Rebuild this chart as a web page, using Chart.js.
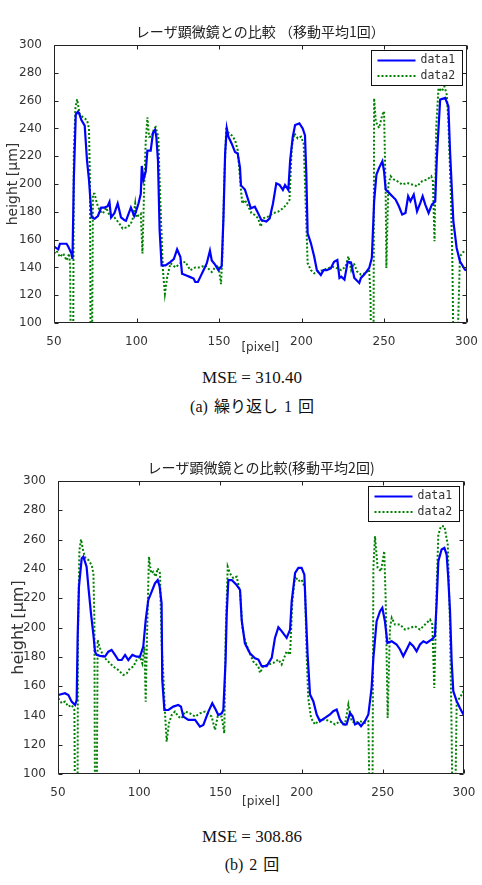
<!DOCTYPE html>
<html lang="ja">
  <head>
    <meta charset="UTF-8">
    <title>レーザ顕微鏡との比較</title>
    <script src="https://cdn.jsdelivr.net/npm/chart.js@4.4.6/dist/chart.umd.min.js"></script>
    <style>
      body { margin: 0; background: #fff; }
      #page { position: relative; width: 482px; height: 885px; overflow: hidden; }
      canvas { position: absolute; left: 0; }
      .cap { position: absolute; left: 252px; transform: translate(-50%, -50%); white-space: nowrap;
             font-family: "Liberation Serif", "Noto Sans CJK JP", serif; color: #111; }
      .mse { font-size: 17px; }
      .sub { font-size: 16px; word-spacing: 2px; }
    </style>
  </head>
  <body>
    <div id="page">
      <canvas id="chart-a" width="482" height="360" style="top:0"></canvas>
      <canvas id="chart-b" width="482" height="381" style="top:430px"></canvas>
      <div class="cap mse" style="top:378px">MSE = 310.40</div>
      <div class="cap sub" style="top:405px">(a) 繰り返し 1 回</div>
      <div class="cap mse" style="top:837px">MSE = 308.86</div>
      <div class="cap sub" style="top:863px">(b) 2 回</div>
    </div>
    <script>
      // tick values shared by both plots
      const xTicks = [50, 100, 150, 200, 250, 300];
      const yTicks = [100, 120, 140, 160, 180, 200, 220, 240, 260, 280, 300];
      const seriesNames = ["data1", "data2"];
      const titleA = "レーザ顕微鏡との比較 （移動平均1回）";
      const titleB = "レーザ顕微鏡との比較(移動平均2回)";

      // (a) moving average x1 -- data1 (blue)
      const pixelA1 = [50,52.6,53.6,57.6,58.6,60.6,61.2,62,63.2,64.5,65.2,66.6,68.6,70,71.2,72.8,74.6,76.6,78.6,80.6,82.5,83.6,84.6,86.6,88.6,90.6,92.6,93.6,96.6,98.6,99.6,101.2,102.6,103.2,104.2,105.6,106.6,108.6,110,111.2,112,113,114,115.2,117.6,120.6,122.6,124.6,126.6,127.6,130.6,132.6,134.6,135.6,137.2,138.6,140.6,142.6,144.5,145.6,147.6,149.6,151.6,152.7,153.7,154.7,155.7,157.7,159.7,161.3,162.7,163.3,165.7,167.7,169.3,171.7,173.7,175.7,178.7,180.7,182.7,184.7,186.7,188.7,190,192,193.1,194.7,196.1,198.7,200.7,202.1,202.9,203.7,205.7,207.7,209.3,211.7,213.3,215.3,217.7,219.7,221.7,223,224.1,226,228,230,232,235,236,238,241,242.6,244,245.4,247,249,250,251,253,255,257,259,261,263,264.6,266,268,270,272,273.4,275,277,279,281,282,284,287,289,290,292,294,296,299,300];
      const heightA1 = [155,153,157,157,155,150,146,203,250,252,251,246,242,217,203,176,175,177,183,183,184,187,176,179,186,176,174,173.5,183,177,180,186,193,213,203,209,224,224,237,239,234,217,167,141.5,141.5,144,146,153,147.5,135.5,134,133,132,129.5,129.5,133,138,143,152,145,142,138,141,176,222,240,234,229,223,222,212,199,196,188.5,182.5,183.7,179,174,173,175.3,186,200.5,199.3,195.7,199.3,195.7,217,234,242.4,243.6,240,235,207.6,164.5,157.3,147.7,138,134.5,138,138,139.3,144,145.3,132.4,133.3,131.2,144,143.5,132.4,128.8,132.4,134.8,139.6,146.8,187.6,206.8,211.6,216.4,209.2,196,193.6,191.2,188.8,184,178,179.2,191.2,187.6,192.4,180.4,186.4,191.2,185.2,179.2,185.2,187.6,218.8,260.7,261.9,255.9,223.6,173.2,154,144.4,138.4,138];

      // (a) moving average x1 -- data2 (green, dips run below the axis)
      const pixelA2 = [50,51.6,53.6,55.6,57.6,59.2,59.8,60.2,61.6,62,63,64,65.6,67.6,70,71.2,71.8,72.2,73,73.6,74.6,76,77.6,79.6,81.6,83.6,86.6,89.6,91.6,94.6,96.6,98,99.2,100,101.2,102.6,103.6,104.6,105.6,106.6,107.6,109.2,110.6,111.6,113.2,114,115,116,117.2,118.6,120.6,123.6,126.6,129.6,132.6,135.6,138.6,141.6,145.6,147.6,149.6,151.2,152,153.2,154.4,155.6,157.7,159.7,161.3,163.3,164.1,165.7,167.7,169.7,171.7,173.7,175.3,176.7,179.7,182.7,185.7,188.7,190.7,192.7,194.1,195.7,197.7,199.7,201.3,202.7,203.7,205.7,207.7,209.7,212.7,215.7,218.7,221.7,224.1,226.7,228.4,230.1,231.7,233.7,236,239,241,241.8,242.2,243.6,244,245,247,249,250,251,251.4,252.6,254,256,258,261,264,267,270,273,276,278.6,279.6,280.6,281.6,283,285,286.6,288,289,290.6,291.4,292.2,294.2,296,298,300];
      const heightA2 = [150,152,147.5,150,145,150,140,70,70,222,255,261,250,248,246,240,200,70,70,193,193,186,181,178.7,183,177.5,176,171.5,168,169,171.5,176,186,176,177.5,178.7,150,195.5,231,248,234,234,240,241,234,202.6,169,138,121,133,143,140,143,144,138,140,140,141.5,136.7,140,141.5,128,147.5,202.6,241,237,235,231.6,224.4,195.7,186,188.5,183.7,179,177.7,175.3,169.3,175.3,176.5,179,180,182.5,185,188.5,227,236.4,232.8,234,229.2,179,143,138,135.7,137,138,139.3,140.5,139.3,138,140.5,148,138,143,137,134.8,136,138.4,120,70,70,261.7,245,240.3,250,252.3,192.4,139.6,199.6,205.6,203.2,202,199.6,200.8,199.6,198.4,202,203.2,205.6,202,158.8,240.3,269,266.7,270.3,264.3,245,187.6,144.4,70,70,148,151,152];

      // (b) moving average x2 -- data1 (blue)
      const pixelB1 = [50.2,54.3,56.4,58.4,60.5,61.5,62.1,62.9,64.6,65.6,67.6,68.7,70.3,71.8,72.8,73.8,75.9,78.9,81,83,85.1,87.1,89.2,91.3,93.3,95.8,98.4,100.5,102.5,104,105.6,107.7,109.7,111.4,112.6,113.8,114.2,115.5,118,121,124.1,125.7,127.2,130.3,134.4,137.4,139.5,142.6,145,146.7,148.7,150.8,151.8,153.2,153.9,154.9,157,160,162.1,163.1,165.1,168.2,171.3,173.4,175.4,178.5,181.6,183.6,185.7,187.7,190.8,192.9,193.9,196,198,200,201.7,202.5,203.7,205.2,207.2,209.3,211.3,214.4,217.5,219.5,221.6,223.6,225.7,227.7,229.8,231.4,232.9,234.9,236.6,239,241.1,243.1,244.2,246.2,248.3,249.7,251.3,252.8,255.5,258.5,260.6,262.6,264.7,266.7,268.8,270.8,272.9,275,277,280.1,282.1,283.2,284.2,286.2,287.9,289.3,290.3,291.4,292.4,293.4,295.5,297.5,299.6];
      const heightB1 = [153.9,155.1,153.9,149.4,147.1,150.5,193.8,227.9,247.2,248.4,241.5,227.9,209.7,194.9,183.5,181.3,180.6,180.1,183.5,184.7,181.3,177.8,177.8,181.3,177.8,181.3,180.1,180.1,187,205.1,218.8,224.5,230.2,232.4,227.9,216.5,164.2,143.7,143.7,146,147.1,146,139.2,136.9,136.9,132.3,133.5,142.6,148.3,144.8,140.3,141.4,143.7,177.8,209.7,232.4,232.4,229,225.6,205.1,189.2,182.4,179,178.1,173.6,173.6,179.3,192.9,200.2,197.5,192.9,198.6,217.9,237.3,240.7,240.7,236.1,213.4,181.5,154.2,149.7,140.6,136,138.3,140.6,142.9,144,137.2,133.8,133.8,141.7,139.4,133.8,134.9,132.6,136,140.6,158.8,179.3,204.3,211.1,213.4,204.3,189.5,190.6,188.4,185,180.4,185,189.5,187.2,183.8,188.4,190.6,189.5,191.8,194.1,217.9,245.2,253.2,254.3,249.8,233.9,211.1,177,156.5,149.7,145.1,140.6];

      // (b) moving average x2 -- data2 (green)
      const pixelB2 = [50.2,52.3,54.3,56.4,58.4,60.1,60.5,62,62.3,63.2,64.2,65.6,67,68.7,70.7,71.8,72.4,72.8,73.8,74.4,75.9,78,81,84.1,87.1,90.2,92.3,94.3,96.4,98.4,100.5,101.9,103.2,104,104.8,106,107.3,108.7,110.1,111.4,112.8,113.8,114.9,115.9,116.9,118.3,120,122,124.1,126.1,128.2,131.3,134.4,137.4,140.5,144.6,146.7,148.3,150.8,152.4,153.2,154.5,155.9,158,160,162.1,163.5,165.1,167.2,170.3,173.4,174.4,176.4,179.5,182.6,185.7,187.7,190.8,192.9,194.3,196,198,200,202.1,203.1,204.1,205.8,208.2,211.3,214.4,217.5,220.6,223.6,226.7,228.8,230.8,232.9,236,239,241.1,242,243.6,244.2,245.2,246.8,248.9,250.9,251.8,253,254.4,255.5,257.5,260.6,263.7,266.7,269.8,272.9,276,279.1,280.5,281.7,283.2,284.2,285.8,287.9,290,291.4,292.4,293,294.5,295.5,297.5,299.6];
      const heightB2 = [151.7,148.3,149.4,146,147.1,143.7,70,70,193.8,252.9,260.2,251.8,247.2,246.1,242.7,237,205.1,70,70,191.5,185.8,180.1,176.7,173.3,171,167.6,168.7,172.1,173.3,177.8,180.1,175.6,187,149.4,193.8,248.4,237,238.1,234.7,240.4,237,189.2,166.5,141.4,122.1,134.6,140.3,142.6,139.2,138,142.6,141.4,139.2,141.4,142.6,139.2,130.1,139.2,139.2,127.8,193.8,241.5,237,233.6,234.7,224.5,200.6,191.5,184.7,176.7,173.3,169,173.6,174.7,175.8,178.1,174.7,183.8,181.5,217.9,235,231.6,232.7,227,181.5,152,138.3,133.8,137.2,137.2,136,133.8,136,133.8,147.4,136,134.9,136,134.9,136,70,70,240.7,262.3,240.7,238.4,252.1,217.9,138.3,199.7,206.6,202,202,198.6,199.7,200.9,198.6,202,205.4,202,158.8,229.3,263.4,269.1,269.1,256.6,199.7,127,70,70,149.7,152,156.5];

      const toPoints = (xs, ys) => xs.map((x, i) => ({ x: x, y: ys[i] }));

      // title over the plot area, box, inward ticks on all four sides, legend in the top right corner
      const matlabFrame = {
        id: 'matlabFrame',
        afterDatasetsDraw(chart, args, opts) {
          const { ctx, chartArea: a, scales: { x, y } } = chart;
          const L = Math.round(a.left) + 0.5, R = Math.round(a.right) - 0.5;
          const T = Math.round(a.top) + 0.5, B = Math.round(a.bottom) - 0.5;
          ctx.save();

          ctx.fillStyle = '#222';
          ctx.font = '14px "Noto Sans CJK JP"';
          ctx.textAlign = 'center';
          ctx.textBaseline = 'middle';
          ctx.fillText(opts.title, (a.left + a.right) / 2, opts.titleY);
          ctx.textAlign = 'left';

          ctx.strokeStyle = '#222';
          ctx.lineWidth = 1;
          ctx.setLineDash([]);
          ctx.beginPath();
          ctx.rect(L, T, R - L, B - T);
          x.ticks.forEach(t => {
            const p = Math.round(x.getPixelForValue(t.value)) + 0.5;
            ctx.moveTo(p, B); ctx.lineTo(p, B - 4);
            ctx.moveTo(p, T); ctx.lineTo(p, T + 4);
          });
          y.ticks.forEach(t => {
            const p = Math.round(y.getPixelForValue(t.value)) + 0.5;
            ctx.moveTo(L, p); ctx.lineTo(L + 4, p);
            ctx.moveTo(R, p); ctx.lineTo(R - 4, p);
          });
          ctx.stroke();

          // legend
          const w = 91, h = 35;
          const bx = Math.round(a.right) - 5 - w + 0.5, by = Math.round(a.top) + 5 + 0.5;
          ctx.fillStyle = '#fff';
          ctx.fillRect(bx, by, w, h);
          ctx.strokeStyle = '#111';
          ctx.strokeRect(bx, by, w, h);
          ctx.font = '11.5px "DejaVu Sans Mono"';
          ctx.textBaseline = 'middle';
          chart.data.datasets.forEach((ds, i) => {
            const ly = by + 10 + i * 15.5;
            ctx.strokeStyle = ds.borderColor;
            ctx.lineWidth = ds.borderWidth;
            ctx.setLineDash(ds.borderDash || []);
            ctx.beginPath();
            ctx.moveTo(bx + 6, ly);
            ctx.lineTo(bx + 44, ly);
            ctx.stroke();
            ctx.fillStyle = '#333';
            ctx.fillText(ds.label, bx + 49, ly);
          });
          ctx.restore();
        }
      };

      function makeChart(id, title, d1, d2, o) {
        return new Chart(document.getElementById(id), {
          type: 'line',
          data: {
            datasets: [
              { label: seriesNames[0], data: d1, borderColor: '#0000ff', borderWidth: 2.2,
                pointRadius: 0, tension: 0, clip: 0 },
              { label: seriesNames[1], data: d2, borderColor: '#008000', borderWidth: 2,
                borderDash: [2, 2], pointRadius: 0, tension: 0, clip: 0 }
            ]
          },
          options: {
            responsive: false,
            animation: false,
            devicePixelRatio: 1,
            layout: { padding: { left: 0, right: o.padRight, top: o.padTop, bottom: 0 } },
            plugins: {
              legend: { display: false },
              tooltip: { enabled: false },
              title: { display: false },
              matlabFrame: { title: title, titleY: o.titleY }
            },
            scales: {
              x: {
                type: 'linear', min: 50, max: 300,
                afterBuildTicks: s => { s.ticks = xTicks.map(v => ({ value: v })); },
                afterFit: s => { s.height = 37; },
                grid: { display: false },
                border: { display: false },
                ticks: { color: '#333', padding: 4, maxRotation: 0,
                         font: { family: '"DejaVu Sans"', size: 12 } },
                title: { display: true, text: '[pixel]', color: '#333',
                         font: { family: '"DejaVu Sans"', size: 12 },
                         padding: { top: 0, bottom: o.xTitleBottom } }
              },
              y: {
                type: 'linear', min: 100, max: 300,
                afterBuildTicks: s => { s.ticks = yTicks.map(v => ({ value: v })); },
                afterFit: s => { s.width = o.yWidth; },
                grid: { display: false },
                border: { display: false },
                ticks: { color: '#333', padding: 4,
                         font: { family: '"DejaVu Sans"', size: 12 } },
                title: { display: true, text: 'height [μm]', color: '#333',
                         font: { family: '"DejaVu Sans"', size: o.yTitleSize },
                         padding: { top: o.yTitleTop, bottom: 0 } }
              }
            }
          },
          plugins: [matlabFrame]
        });
      }

      makeChart('chart-a', titleA, toPoints(pixelA1, heightA1), toPoints(pixelA2, heightA2),
        { padRight: 12, padTop: 45, titleY: 32, xTitleBottom: 4.8, yWidth: 54, yTitleSize: 14, yTitleTop: 4.6 });
      makeChart('chart-b', titleB, toPoints(pixelB1, heightB1), toPoints(pixelB2, heightB2),
        { padRight: 18, padTop: 51, titleY: 38, xTitleBottom: 1.8, yWidth: 58, yTitleSize: 16, yTitleTop: 9.4 });
    </script>
  </body>
</html>
